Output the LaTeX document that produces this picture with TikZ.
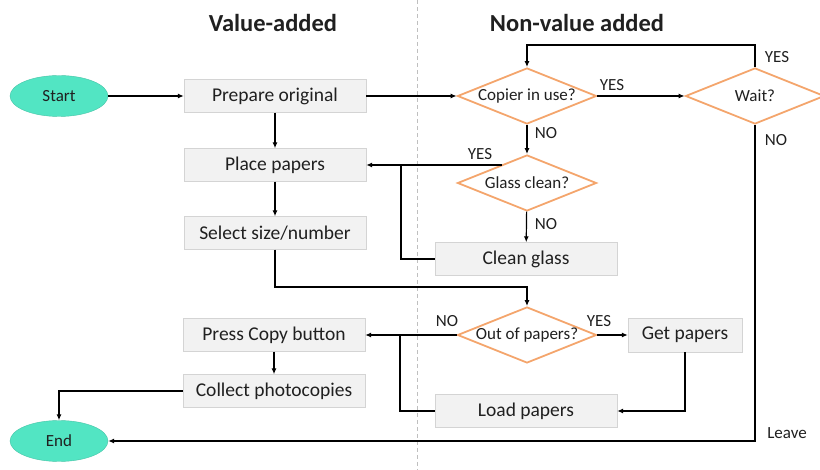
\documentclass[tikz,border=0pt]{standalone}
\usepackage{fontspec}
\setmainfont{Carlito}
\usetikzlibrary{shapes.geometric,arrows.meta}
\definecolor{mint}{HTML}{52E5C3}
\definecolor{boxgray}{HTML}{F2F2F2}
\definecolor{boxedge}{HTML}{D4D4D4}
\definecolor{decorange}{HTML}{F4A56C}
\definecolor{inkgray}{HTML}{202020}
\tikzset{
	terminal/.style={ellipse, draw=mint!85!black, fill=mint, minimum width=98pt, minimum height=41pt, inner sep=0pt, font=\fontsize{17}{20}\selectfont},
	stepbox/.style={rectangle, draw=boxedge, fill=boxgray, minimum width=182pt, minimum height=33pt, inner sep=0pt, font=\fontsize{19.5}{22}\selectfont},
	decision/.style={diamond, draw=decorange, line width=1.8pt, fill=white, aspect=2.48, minimum width=139pt, minimum height=56pt, inner xsep=-3pt, inner ysep=0pt, font=\fontsize{17}{20}\selectfont},
	tag/.style={font=\fontsize{17}{20}\selectfont},
	flow/.style={-{Latex[length=6pt,width=5pt]}, line width=1.2pt},
	link/.style={line width=1.2pt}
}
\begin{document}
\begin{tikzpicture}[x=1pt, y=-1pt, text=inkgray]
			\useasboundingbox (0,0) rectangle (820,470);
			% lane divider
			\draw[black!25, dash pattern=on 4pt off 3pt] (417,0) -- (417,470);
			\node[font=\fontsize{24.5}{28}\selectfont\bfseries] (vtitle) at (273,23) {Value-added};
			\node[font=\fontsize{24.5}{28}\selectfont\bfseries] (ntitle) at (577,23) {Non-value added};
			% value-added steps
			\node[terminal] (start) at (59,96) {Start};
			\node[stepbox] (prep) at (275,96) {Prepare original};
			\node[stepbox] (place) at (275,165) {Place papers};
			\node[stepbox] (select) at (275,233) {Select size/number};
			\node[stepbox] (press) at (274,335) {Press Copy button};
			\node[stepbox] (collect) at (274,391) {Collect photocopies};
			\node[terminal] (fin) at (59,441) {End};
			% non-value added steps
			\node[decision] (copier) at (527,96) {Copier in use?};
			\node[decision] (wait) at (755,96) {Wait?};
			\node[decision] (glass) at (527,183) {Glass clean?};
			\node[stepbox] (clean) at (526,259) {Clean glass};
			\node[decision] (outp) at (527,335) {Out of papers?};
			\node[stepbox, minimum width=114pt, minimum height=34pt] (getp) at (685,335) {Get papers};
			\node[stepbox] (load) at (526,411) {Load papers};
			% junctions and corners
			\coordinate (jplace) at (401,165);
			\coordinate (jpress) at (400,335);
			\coordinate (ctop) at (755,45);
			\coordinate (csel) at (275,287);
			% connectors
			\draw[flow] (start) -- (prep);
			\draw[flow] (prep) -- (place);
			\draw[flow] (place) -- (select);
			\draw[flow] (prep) -- (copier);
			\draw[flow] (copier) -- (wait);
			\draw[flow] (wait.north) -- (ctop) -| (copier.north);
			\draw[flow] (copier) -- (glass);
			\draw[flow] (place.east -| glass.144) -- (place.east);
			\draw[link] (clean.west) -| (jplace);
			\draw[flow] (glass) -- (clean);
			\draw[flow] (select.south) -- (csel) -| (outp.north);
			\draw[flow] (outp) -- (getp);
			\draw[flow] (outp.west) -- (press.east);
			\draw[link] (load.west) -| (jpress);
			\draw[flow] (getp.south) |- (load.east);
			\draw[flow] (press) -- (collect);
			\draw[flow] (collect.west) -| (fin.north);
			\draw[flow] (wait.south) |- (fin.east);
			% branch labels
			\node[tag] (ycopier) at (612,85) {YES};
			\node[tag] (ncopier) at (546,133) {NO};
			\node[tag] (yglass) at (480,154) {YES};
			\node[tag] (nglass) at (546,224) {NO};
			\node[tag] (ywait) at (777,57) {YES};
			\node[tag] (nwait) at (776,140) {NO};
			\node[tag] (noutp) at (447,321) {NO};
			\node[tag] (youtp) at (599,321) {YES};
			\node[tag] (leave) at (787,433) {Leave};
		\end{tikzpicture}
\end{document}
